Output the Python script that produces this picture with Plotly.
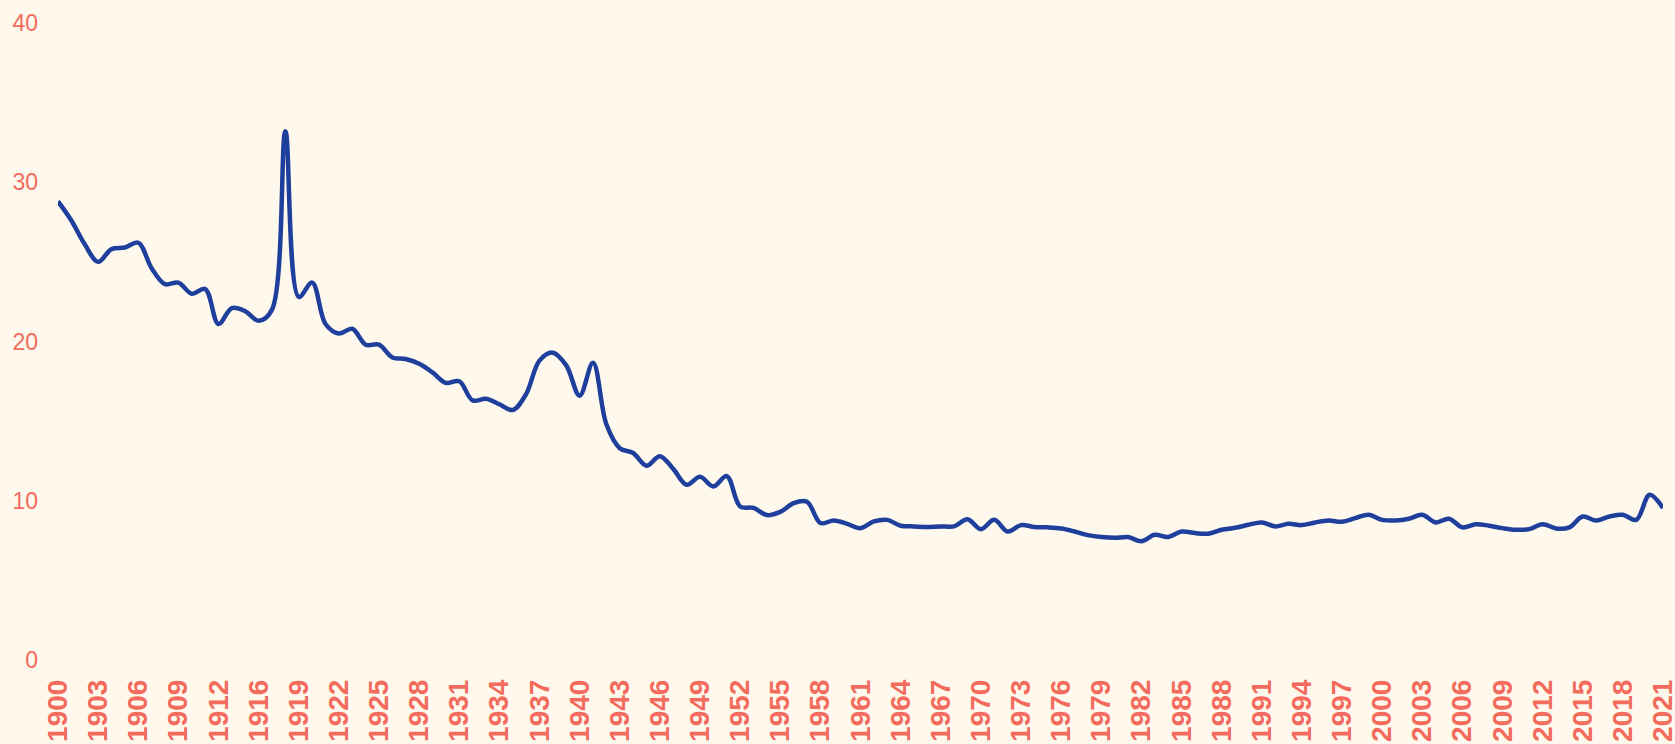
import plotly.graph_objects as go

years = [str(y) for y in list(range(1900, 1915)) + list(range(1916, 2022))]

death_rate = [
    28.8, 27.6, 26.1, 25.0, 25.8, 25.9, 26.2, 24.6, 23.6, 23.7,
    23.0, 23.3, 21.1, 22.1, 21.9, 21.3, 22.0, 33.2, 22.8, 23.7,
    21.1, 20.5, 20.8, 19.8, 19.8, 19.0, 18.9, 18.6, 18.06, 17.4,
    17.5, 16.3, 16.4, 16.06, 15.7, 16.7, 18.8, 19.3, 18.5, 16.6,
    18.66, 14.8, 13.3, 13.0, 12.2, 12.8, 12.0, 11.0, 11.5, 10.9,
    11.55, 9.64, 9.55, 9.1, 9.3, 9.85, 9.94, 8.6, 8.76, 8.55,
    8.28, 8.7, 8.8, 8.43, 8.39, 8.35, 8.39, 8.39, 8.84, 8.21,
    8.8, 8.07, 8.47, 8.35, 8.33, 8.26, 8.07, 7.84, 7.72, 7.67,
    7.72, 7.46, 7.86, 7.72, 8.07, 7.97, 7.93, 8.18, 8.3, 8.49,
    8.64, 8.39, 8.55, 8.47, 8.64, 8.76, 8.68, 8.91, 9.12, 8.8,
    8.76, 8.87, 9.12, 8.64, 8.87, 8.33, 8.53, 8.43, 8.28, 8.18,
    8.22, 8.53, 8.26, 8.33, 9.01, 8.76, 9.01, 9.12, 8.8, 10.38,
    9.54,
]

x_tick_labels = years[::3]
y_tick_values = [0, 10, 20, 30, 40]

bg = "#fff8ec"
salmon = "#f26b5c"
line_color = "#1f3f9c"
font_family = "Liberation Sans, Arial, sans-serif"

fig = go.Figure(
    go.Scatter(
        x=years,
        y=death_rate,
        mode="lines",
        line=dict(color=line_color, width=4.5, shape="spline", smoothing=1),
        hoverinfo="x+y",
    )
)

fig.update_layout(
    width=1675,
    height=744,
    paper_bgcolor=bg,
    plot_bgcolor=bg,
    margin=dict(l=58, r=12, t=23, b=84),
    showlegend=False,
    font=dict(family=font_family, color=salmon),
)

fig.update_xaxes(
    type="category",
    tickmode="array",
    tickvals=x_tick_labels,
    ticktext=x_tick_labels,
    tickangle=-90,
    tickfont=dict(size=28, color=salmon, family=font_family, weight="bold"),
    showgrid=False,
    zeroline=False,
    showline=False,
    ticks="",
    ticklabelstandoff=13,
    automargin=False,
)

fig.update_yaxes(
    range=[0, 40],
    tickmode="array",
    tickvals=y_tick_values,
    tickfont=dict(size=23, color=salmon, family=font_family),
    showgrid=False,
    zeroline=False,
    showline=False,
    ticks="",
    ticklabelstandoff=19,
    automargin=False,
)

fig.write_html(
    "out.html",
    config={"displayModeBar": False},
    post_script="document.body.style.margin='0';document.body.style.background='#fff8ec';document.body.style.overflow='hidden';",
)
